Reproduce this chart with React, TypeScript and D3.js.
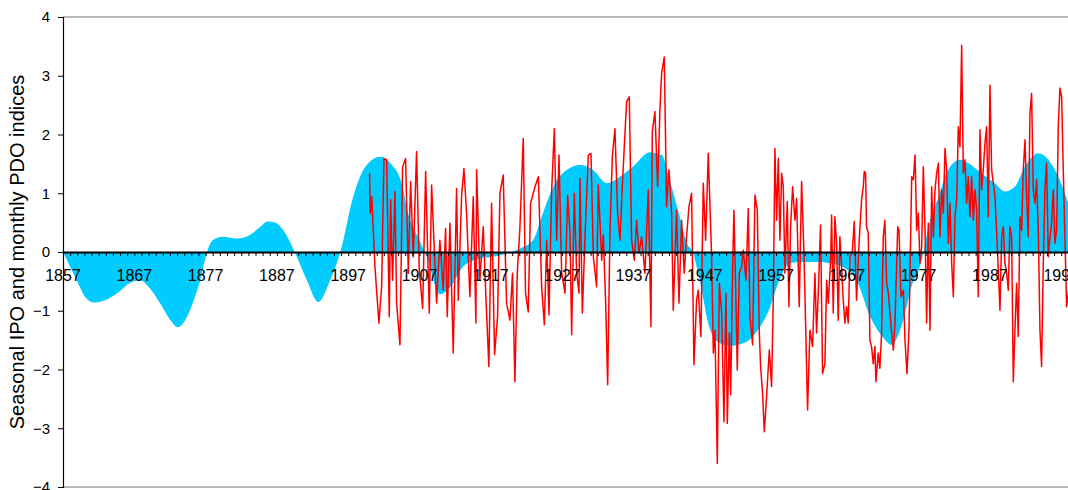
import React, { useEffect, useRef } from 'react';
import * as d3 from 'd3';

// Seasonal IPO (smooth, shaded)
const ipoYears = [
  1857.0, 1858.0, 1859.0, 1860.2, 1861.3, 1862.5, 1864.6, 1866.5, 1867.8, 1869.2,
  1870.6, 1872.0, 1873.1, 1874.2, 1875.2, 1876.3, 1877.2, 1878.0, 1879.4, 1881.4,
  1883.2, 1884.6, 1885.7, 1886.8, 1887.9, 1889.5, 1891.2, 1892.8, 1894.4, 1895.9,
  1897.7, 1899.4, 1901.5, 1903.0, 1904.5, 1905.4, 1907.0, 1908.0, 1909.9, 1911.3,
  1913.1, 1915.5, 1917.3, 1919.2, 1921.1, 1922.9, 1924.3, 1925.7, 1927.7, 1929.5,
  1931.3, 1933.3, 1935.1, 1936.9, 1939.3, 1941.0, 1942.1, 1943.5, 1944.5, 1945.3,
  1946.3, 1947.7, 1949.1, 1950.5, 1952.5, 1953.4, 1954.8, 1956.2, 1957.1, 1959.0,
  1960.4, 1962.8, 1964.6, 1967.0, 1968.3, 1970.2, 1972.0, 1973.2, 1974.2, 1975.1,
  1976.0, 1977.0, 1977.7, 1978.1, 1978.6, 1979.8, 1980.9, 1981.6, 1982.8, 1984.0,
  1985.8, 1987.7, 1989.1, 1990.5, 1991.9, 1993.8, 1995.2, 1996.6, 1997.8, 1999.0,
];
const ipoValues = [
  0, -0.25, -0.5, -0.78, -0.86, -0.84, -0.7, -0.52, -0.48, -0.62,
  -0.87, -1.15, -1.28, -1.15, -0.87, -0.45, 0, 0.2, 0.26, 0.23,
  0.29, 0.42, 0.52, 0.5, 0.37, 0, -0.48, -0.85, -0.5, 0,
  0.94, 1.45, 1.62, 1.5, 1.17, 0.66, 0.2, -0.08, -0.72, -0.6,
  -0.25, -0.11, -0.08, -0.03, 0.06, 0.2, 0.66, 1.1, 1.4, 1.48,
  1.4, 1.17, 1.28, 1.45, 1.7, 1.65, 1.22, 0.6, 0.15, 0,
  -0.48, -1.3, -1.55, -1.6, -1.55, -1.48, -1.27, -0.93, -0.6, -0.19,
  -0.17, -0.17, -0.19, -0.3, -0.48, -1.1, -1.45, -1.58, -1.4, -1.04,
  -0.59, -0.31, 0, 0.26, 0.54, 0.94, 1.34, 1.48, 1.57, 1.51,
  1.34, 1.17, 1.03, 1.11, 1.45, 1.68, 1.57, 1.28, 0.9, 0.4,
];

// Monthly PDO (red line) – peaks and troughs
const pdoYears = [
  1900.0, 1900.1, 1900.3, 1900.5, 1900.75, 1901.31, 1901.69, 1902.01, 1902.39, 1902.76,
  1902.95, 1903.23, 1903.56, 1903.79, 1904.26, 1904.63, 1905.05, 1905.43, 1905.75, 1906.13,
  1906.59, 1906.97, 1907.44, 1907.86, 1908.37, 1908.7, 1909.02, 1909.4, 1909.86, 1910.33,
  1910.66, 1910.89, 1911.27, 1911.73, 1912.2, 1912.44, 1912.9, 1913.23, 1913.6, 1914.07,
  1914.54, 1914.91, 1915.01, 1915.47, 1915.94, 1916.31, 1916.73, 1917.11, 1917.53, 1917.95,
  1918.28, 1918.74, 1919.21, 1919.68, 1920.05, 1920.38, 1920.71, 1921.08, 1921.55, 1921.87,
  1922.25, 1922.58, 1922.95,
  1923.2, 1923.67, 1924.13, 1924.51, 1924.84, 1925.16, 1925.54, 1925.91, 1926.24, 1926.56,
  1926.94, 1927.41, 1927.78, 1928.11, 1928.34, 1928.71, 1929.04, 1929.37, 1929.51, 1929.84,
  1930.21, 1930.68, 1931.05, 1931.38, 1931.84, 1932.08, 1932.55, 1932.78, 1933.11, 1933.39,
  1933.71, 1934.04, 1934.41, 1934.79, 1935.12, 1935.44, 1935.72, 1936.05, 1936.42, 1936.75,
  1937.13, 1937.45, 1937.78, 1938.15, 1938.62, 1939.09, 1939.46, 1939.65, 1940.02, 1940.4,
  1940.72, 1940.96, 1941.33, 1941.66, 1941.99, 1942.36, 1942.59, 1943.06, 1943.39, 1943.76,
  1944.13, 1944.46, 1944.79, 1945.16, 1945.49, 1945.86, 1946.1, 1946.47, 1946.8, 1947.13,
  1947.5,
  1947.97, 1948.21, 1948.44, 1948.77, 1949.05, 1949.38, 1949.7, 1949.98, 1950.17, 1950.45,
  1950.64, 1950.92, 1951.1, 1951.38, 1951.57, 1951.85, 1952.18, 1952.41, 1952.79, 1953.11,
  1953.35, 1953.72, 1954.05, 1954.38, 1954.66, 1954.84, 1955.12, 1955.36, 1955.68, 1956.06,
  1956.38, 1956.62, 1956.85, 1957.09, 1957.32, 1957.55, 1957.79, 1958.02, 1958.25, 1958.58,
  1958.81, 1959.05, 1959.33, 1959.66, 1959.89, 1960.26, 1960.59, 1960.92, 1961.15, 1961.43,
  1961.76, 1962.13, 1962.46, 1962.69, 1962.93, 1963.25, 1963.53, 1963.86, 1964.1, 1964.33,
  1964.66, 1964.8, 1965.03, 1965.26, 1965.5, 1965.73, 1965.96, 1966.2, 1966.43, 1966.67,
  1966.9, 1967.13, 1967.37, 1967.69, 1967.97, 1968.3, 1968.67, 1969.0, 1969.24, 1969.38,
  1969.56, 1969.7, 1969.94, 1970.17, 1970.4, 1970.64, 1970.87, 1971.01, 1971.34, 1971.57,
  1971.81, 1972.04, 1972.27,
  1972.52, 1972.76, 1972.99, 1973.22, 1973.46, 1973.69, 1974.07, 1974.25, 1974.53, 1974.86,
  1975.09, 1975.37, 1975.65, 1976.03, 1976.26, 1976.5, 1976.73, 1976.96, 1977.2, 1977.43,
  1977.66, 1977.9, 1978.13, 1978.36, 1978.6, 1978.83, 1979.07, 1979.3, 1979.53, 1979.77,
  1980.0, 1980.23, 1980.47, 1980.7, 1980.93, 1981.17, 1981.4, 1981.64, 1981.87, 1982.1,
  1982.34, 1982.57, 1982.8, 1983.04, 1983.27, 1983.5, 1983.74, 1983.97, 1984.21, 1984.44,
  1984.67, 1984.91, 1985.14, 1985.37, 1985.61, 1985.84, 1986.07, 1986.31, 1986.54, 1986.78,
  1987.01, 1987.24, 1987.48, 1987.71, 1987.94, 1988.18, 1988.41, 1988.65, 1988.88, 1989.11,
  1989.35, 1989.58, 1989.81, 1990.05, 1990.28, 1990.51, 1990.75, 1990.98, 1991.22, 1991.45,
  1991.68, 1991.92, 1992.15, 1992.38, 1992.62, 1992.85, 1993.08, 1993.32, 1993.55, 1993.79,
  1994.02, 1994.25, 1994.49, 1994.72, 1994.95, 1995.19, 1995.42, 1995.65, 1995.89, 1996.12,
  1996.36, 1996.59, 1996.82, 1997.06, 1997.29, 1997.52, 1997.76, 1998.1, 1998.5,
];
const pdoValues = [
  1.34, 0.66, 0.94, 0.43, -0.25, -1.21, -0.59, 1.59, 1.57, -1.1,
  0.89, -0.48, 1.03, -0.87, -1.58, 1.45, 1.59, -0.36, 1.2, -0.08,
  1.71, -0.31, -0.96, 1.37, -1.04, 1.14, 0.2, -0.87, 0.2, -0.65,
  0.4, -1.1, 0.49, -1.72, 1.08, -0.82, 0.94, 1.42, 0.66, -0.76,
  0.94, -1.21, 1.4, -0.48, 0.43, -0.76, -1.95, 0.83, -1.75, -1.1,
  1.0, 1.31, -0.87, -1.16, -0.36, -2.21, -0.36, 0.4, 1.93, -0.7,
  -1.02, 0.83, 1.0,
  1.11, 1.28, -0.59, -1.24, 0.2, -1.07, 1.06, 2.1, 0.2, 1.65,
  -0.36, -0.7, 0.97, 0.32, -1.41, 1.0, -0.36, -0.7, 1.25, -1.04,
  0.26, 1.65, 1.68, -0.08, -0.59, 1.14, -0.14, 0.29, -0.87, -2.26,
  0.32, 1.62, 2.1, 0.66, 0.2, 1.11, 1.79, 2.56, 2.64, 0.2,
  -0.14, 0.54, -0.02, 0.26, -0.36, 1.06, -1.27, 2.05, 2.39, 1.11,
  2.42, 3.04, 3.32, 0.77, 1.4, 0.66, -0.99, 0.71, -0.87, 0.54,
  -0.36, 0.26, 0.77, 1.0, -1.92, -0.82, -0.65, -1.44, 1.17, 0.2,
  1.68,
  -0.08, -1.72, -1.33, -3.6, -0.53, -1.04, -2.89, -0.7, -2.92, -1.38,
  -2.43, -0.25, 0.71, -0.82, -2.01, -0.36, -0.25, 0.03, -0.48, 0.74,
  -1.1, -1.58, 0.97, 0.71, -1.38, -1.95, -2.41, -3.06, -2.46, -1.67,
  -2.29, -0.82, 1.76, 0.54, 1.59, 0.2, 1.34, 1.11, -0.36, 0.86,
  -0.93, 0.43, 1.11, 0.54, 0.91, -0.93, 1.2, -0.02, -1.21, -2.69,
  -1.33, -1.61, -0.36, -1.38, -0.7, 0.46, -2.07, -1.9, -0.48, -0.87,
  -0.14, 0.63, -1.04, 0.6, 0.15, -1.16, 0.26, -0.25, -0.82, -1.21,
  -0.93, -1.21, -0.08, -0.02, 0.52, -0.82, 0.2, 0.89, 1.11, 1.37,
  1.34, 0.43, 0.32, -1.5, -1.61, -1.9, -1.61, -2.21, -1.72, -1.98,
  -1.38, 0.26, 0.54,
  -0.53, -0.7, -1.04, -1.38, -1.67, -1.21, 0.43, 0.37, -0.76, -0.65,
  -1.5, -2.07, -1.33, 1.28, 1.23, 1.65, 0.37, 0.66, -0.19, 0.09,
  1.45, 0.37, -1.21, 0.49, -1.33, 1.11, 0.26, 1.06, 1.34, 1.51,
  0.26, 1.06, 0.66, 1.76, 1.4, 0.15, 0.83, -0.19, -0.76, 0.6,
  0.89, 2.13, 1.79, 3.52, 1.34, 1.57, 0.83, 1.28, 0.6, 1.28,
  0.54, 1.06, 0.71, -0.76, 2.08, 1.06, 1.4, 1.85, 2.13, 0.6,
  2.84, 1.4, 1.17, 0.94, 0.37, -0.31, -0.99, 0.26, 0.43, -0.19,
  -0.36, -0.65, 0.43, 0.26, -2.21, -1.33, -0.53, -1.44, 0.6, 0.37,
  1.4, 1.91, 0.94, 0.26, 2.36, 2.7, 1.06, 0.83, 1.23, 0.37,
  -1.33, -1.95, -0.19, 1.06, 1.51, -0.08, 0.26, 0.49, 1.06, 0.15,
  0.37, 2.13, 2.79, 2.64, 1.4, 0.26, -0.93, -0.6, -0.9,
];

const yTicks = [-4, -3, -2, -1, 0, 1, 2, 3, 4];
const labelYears = [1857, 1867, 1877, 1887, 1897, 1907, 1917, 1927, 1937, 1947, 1957, 1967, 1977, 1987, 1997];
const yTitle = 'Seasonal IPO and monthly PDO indices';

const App: React.FC = () => {
  const svgRef = useRef<SVGSVGElement>(null);
  const width = 1068;
  const height = 490;

  useEffect(() => {
    if (!svgRef.current) return;
    const svg = d3.select(svgRef.current);
    svg.selectAll('*').remove();

    const left = 63;
    const top = 17;
    const bottom = 487;
    const font = '"Liberation Sans", Arial, sans-serif';

    const x = d3.scaleLinear().domain([1857, 2000]).range([left, left + 143 * 7.13]);
    const y = d3.scaleLinear().domain([-4, 4]).range([bottom, top]);

    // plot area frame (top / bottom)
    svg.append('line').attr('x1', left).attr('x2', width).attr('y1', top).attr('y2', top)
      .attr('stroke', '#a0a0a0').attr('stroke-width', 1.5);
    svg.append('line').attr('x1', left).attr('x2', width).attr('y1', bottom).attr('y2', bottom)
      .attr('stroke', '#a0a0a0').attr('stroke-width', 1.5);

    // IPO shaded area
    const ipo = ipoYears.map((yr, i) => ({ yr, v: ipoValues[i] }));
    const area = d3.area<{ yr: number; v: number }>()
      .x(d => x(d.yr))
      .y0(y(0))
      .y1(d => y(d.v))
      .curve(d3.curveMonotoneX);
    svg.append('path').datum(ipo).attr('d', area).attr('fill', '#00CCFF');

    // PDO monthly line
    const pdo = pdoYears.map((yr, i) => ({ yr, v: pdoValues[i] }));
    const line = d3.line<{ yr: number; v: number }>()
      .x(d => x(d.yr))
      .y(d => y(d.v));
    svg.append('path').datum(pdo).attr('d', line)
      .attr('fill', 'none').attr('stroke', '#FF0000').attr('stroke-width', 1.5)
      .attr('stroke-linejoin', 'round');

    // y axis
    const yAxis = svg.append('g').attr('transform', `translate(${left},0)`)
      .call(d3.axisLeft(y).tickValues(yTicks).tickSize(5).tickPadding(8).tickFormat(d3.format('d')));
    yAxis.select('.domain').attr('stroke', '#000').attr('stroke-width', 1.2);
    yAxis.selectAll('.tick line').attr('stroke', '#000');
    yAxis.selectAll('text').attr('font-family', font).attr('font-size', 15).attr('fill', '#000');

    // x axis along zero
    const xAxis = svg.append('g').attr('transform', `translate(0,${y(0)})`)
      .call(d3.axisBottom(x).tickValues(d3.range(1857, 2000, 1)).tickSize(4).tickFormat(() => '').tickSizeOuter(0));
    xAxis.select('.domain').attr('stroke', '#000').attr('stroke-width', 2);
    xAxis.selectAll('.tick line').attr('stroke', '#000');

    svg.append('g').selectAll('text').data(labelYears).join('text')
      .attr('x', d => x(d))
      .attr('y', y(0) + 29)
      .attr('text-anchor', 'middle')
      .attr('font-family', font)
      .attr('font-size', 16)
      .text(d => String(d));

    // y title
    svg.append('text')
      .attr('transform', `translate(24,${(top + bottom) / 2}) rotate(-90)`)
      .attr('text-anchor', 'middle')
      .attr('font-family', font)
      .attr('font-size', 20)
      .text(yTitle);
  }, []);

  return (
    <svg
      ref={svgRef}
      width={width}
      height={height}
      style={{ position: 'absolute', left: 0, top: 0, background: '#fff' }}
    />
  );
};

export default App;
